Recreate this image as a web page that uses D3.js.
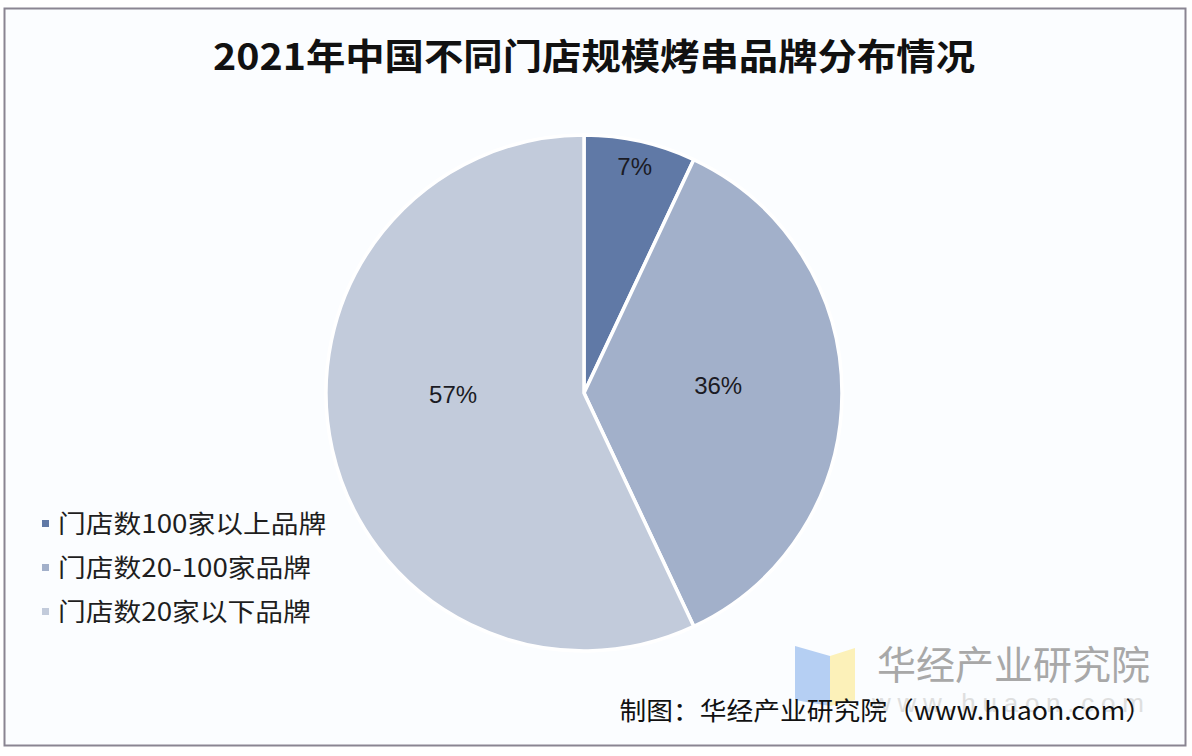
<!DOCTYPE html>
<html lang="zh">
<head>
<meta charset="utf-8" />
<title>2021年中国不同门店规模烤串品牌分布情况</title>
<script src="https://cdnjs.cloudflare.com/ajax/libs/d3/7.8.5/d3.min.js"></script>
<style>
  body { margin: 0; background: #fff; }
  svg { display: block; }
</style>
</head>
<body>
<svg id="chart" width="1192" height="756"></svg>
<script>
  // data
  const categories = ["门店数100家以上品牌", "门店数20-100家品牌", "门店数20家以下品牌"];
  const shares = [7, 36, 57];
  const colors = ["#6079a6", "#a2b0ca", "#c2cbdb"];

  const title = "2021年中国不同门店规模烤串品牌分布情况";
  const source = "制图：华经产业研究院（www.huaon.com）";

  const svg = d3.select("#chart");
  const cjk = "'Noto Sans CJK SC', 'Noto Sans', sans-serif";

  // frame
  svg.append("rect")
    .attr("x", 4.5).attr("y", 8.5)
    .attr("width", 1181).attr("height", 737)
    .attr("fill", "#fbfdff")
    .attr("stroke", "#8a8592")
    .attr("stroke-width", 2);

  svg.append("text")
    .attr("x", 594).attr("y", 70)
    .attr("text-anchor", "middle")
    .attr("font-family", cjk)
    .attr("font-weight", "bold")
    .attr("font-size", 36)
    .attr("textLength", 762)
    .attr("lengthAdjust", "spacingAndGlyphs")
    .attr("fill", "#111")
    .text(title);

  // pie
  const cx = 584, cy = 393, r = 258;
  const data = categories.map((c, i) => ({ name: c, value: shares[i], color: colors[i] }));
  const pie = d3.pie().value(d => d.value).sort(null);
  const arc = d3.arc().innerRadius(0).outerRadius(r);
  const arcs = pie(data);

  const g = svg.append("g").attr("transform", `translate(${cx},${cy})`);
  g.selectAll("path")
    .data(arcs)
    .enter().append("path")
    .attr("d", arc)
    .attr("fill", d => d.data.color)
    .attr("stroke", "#ffffff")
    .attr("stroke-width", 3.5)
    .attr("stroke-linejoin", "round");

  // labels: small slices sit near the rim, large ones about mid-radius, kept near the centre line
  g.selectAll("text.lbl")
    .data(arcs)
    .enter().append("text")
    .attr("class", "lbl")
    .attr("transform", d => {
      const a = (d.startAngle + d.endAngle) / 2;
      if (d.data.value < 10) {
        return `translate(${Math.sin(a) * r * 0.9},${-Math.cos(a) * r * 0.9})`;
      }
      const k = 0.52;
      return `translate(${Math.sin(a) * r * k},${-Math.cos(a) * r * k * 0.3 - 7})`;
    })
    .attr("text-anchor", "middle")
    .attr("dy", "0.35em")
    .attr("font-family", "'Liberation Sans', Arial, sans-serif")
    .attr("font-size", 24)
    .attr("fill", "#1b1b24")
    .text(d => d.data.value + "%");

  // legend
  const lg = svg.append("g").attr("transform", "translate(42,524)");
  const items = lg.selectAll("g")
    .data(data)
    .enter().append("g")
    .attr("transform", (d, i) => `translate(0,${i * 44})`);
  items.append("rect")
    .attr("x", 0).attr("y", -4)
    .attr("width", 7).attr("height", 7)
    .attr("fill", d => d.color);
  items.append("text")
    .attr("transform", "translate(16,0) scale(1.11,1)")
    .attr("dy", "0.35em")
    .attr("font-family", cjk)
    .attr("font-size", 25)
    .attr("fill", "#1e1e1e")
    .text(d => d.name);

  // watermark
  const wm = svg.append("g").attr("opacity", 0.85);
  wm.append("path")
    .attr("d", "M795,646 L830,656 L830,706 L795,700 Z")
    .attr("fill", "#a9c8f2");
  wm.append("path")
    .attr("d", "M830,656 L855,648 L855,700 L830,706 Z")
    .attr("fill", "#fdf0ad");
  wm.append("text")
    .attr("x", 877).attr("y", 679)
    .attr("font-family", cjk)
    .attr("font-size", 39)
    .attr("fill", "#9a9a9a")
    .text("华经产业研究院");
  wm.append("text")
    .attr("x", 872).attr("y", 712)
    .attr("font-family", "'Liberation Sans', Arial, sans-serif")
    .attr("font-size", 26)
    .attr("textLength", 272)
    .attr("lengthAdjust", "spacing")
    .attr("fill", "#dadada")
    .text("www.huaon.com");

  svg.append("text")
    .attr("transform", "translate(1152,720) scale(1.07,1)")
    .attr("text-anchor", "end")
    .attr("font-family", cjk)
    .attr("font-size", 25)
    .attr("fill", "#111")
    .text(source);
</script>
</body>
</html>
